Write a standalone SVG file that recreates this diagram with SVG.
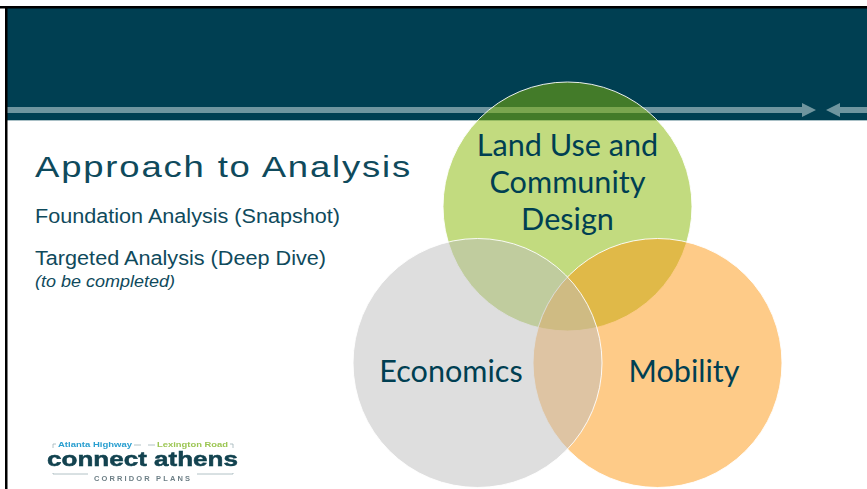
<svg xmlns="http://www.w3.org/2000/svg" width="867" height="489" viewBox="0 0 867 489">
<defs><filter id="soft" x="-5%" y="-5%" width="110%" height="110%"><feGaussianBlur stdDeviation=".35"/></filter></defs>
<style>
.a{font-family:"Liberation Sans",Arial,sans-serif;fill:#0f4a5c}
.l{font-family:Lato,"Open Sans",sans-serif;font-size:30.600px;fill:#003f52;text-anchor:middle}
.c{stroke:#fff;stroke-width:1;stroke-opacity:.9}
.b{fill:#6f959f}
</style>
<rect width="867" height="489" fill="#fff"/>
<g id="header">
<rect x="6" y="8" width="861" height="112" fill="#003f52"/>
<rect x="6" y="120" width="861" height="1" fill="#a9c0c6"/>
<rect x="7" y="107" width="796" height="6" class="b"/>
<polygon points="802,103 816,110 802,117" class="b"/>
<rect x="839" y="107" width="28" height="6" class="b"/>
<polygon points="840,103 826,110 840,117" class="b"/>
</g>
<g id="frame">
<rect x="0" y="6" width="867" height="2.500" fill="#000"/>
<rect x="5" y="6" width="2.500" height="483" fill="#000"/>
</g>
<g id="land-use">
<circle cx="567.500" cy="206.500" r="124.500" fill="#86b800" fill-opacity=".5" class="c"/>
</g>
<g id="mobility">
<circle cx="657.500" cy="363" r="124.500" fill="#fd9711" fill-opacity=".5" class="c"/>
</g>
<g id="economics">
<circle cx="477.500" cy="363" r="124.500" fill="#bdbdbd" fill-opacity=".5" class="c"/>
</g>
<g id="labels">
<text class="l" x="567.500" y="156">Land Use and</text>
<text class="l" x="567.500" y="193">Community</text>
<text class="l" x="567.500" y="229.500">Design</text>
<text class="l" x="451" y="382">Economics</text>
<text class="l" x="684" y="382">Mobility</text>
</g>
<g id="text">
<text class="a" x="35" y="177" font-size="30" letter-spacing="1.500" textLength="377" lengthAdjust="spacingAndGlyphs">Approach to Analysis</text>
<text class="a" x="35" y="223" font-size="20" textLength="305" lengthAdjust="spacingAndGlyphs">Foundation Analysis (Snapshot)</text>
<text class="a" x="35" y="265" font-size="20" textLength="291" lengthAdjust="spacingAndGlyphs">Targeted Analysis (Deep Dive)</text>
<text class="a" x="35" y="287" font-size="16.500" font-style="italic" textLength="140" lengthAdjust="spacingAndGlyphs">(to be completed)</text>
</g>
<g id="logo" font-family="'Liberation Sans',sans-serif" font-weight="700" filter="url(#soft)">
<text x="58" y="446.500" font-size="7.500" fill="#2a9fd0" textLength="74" lengthAdjust="spacingAndGlyphs">Atlanta Highway</text>
<text x="157" y="446.500" font-size="7.500" fill="#9cc653" textLength="71" lengthAdjust="spacingAndGlyphs">Lexington Road</text>
<path d="M134 445h7M155 445h-7M53 448v-4h3M233 448v-4h-3M53 473v1h35M233 473v1h-36" stroke="#9fb2b8" stroke-width=".8" fill="none"/>
<text x="47" y="466" font-size="21" fill="#12424f" stroke="#12424f" stroke-width=".5" textLength="191" lengthAdjust="spacingAndGlyphs">connect athens</text>
<text x="94" y="480.500" font-size="7.500" fill="#6d7f86" textLength="96" lengthAdjust="spacing">CORRIDOR PLANS</text>
</g>
</svg>
